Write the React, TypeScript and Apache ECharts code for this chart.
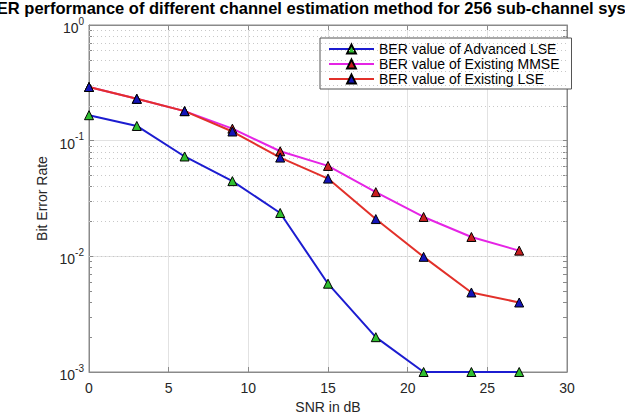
import React, { useEffect, useRef } from "react";
import * as echarts from "echarts";

const SNR = [0, 3, 6, 9, 12, 15, 18, 21, 24, 27];
const ADVANCED_LSE = [0.166, 0.134, 0.073, 0.0447, 0.0237, 0.0058, 0.002, 0.001, 0.001, 0.001];
const EXISTING_MMSE = [0.291, 0.23, 0.18, 0.127, 0.081, 0.0605, 0.0359, 0.0219, 0.0147, 0.0112];
const EXISTING_LSE = [0.291, 0.23, 0.18, 0.12, 0.0714, 0.047, 0.021, 0.0099, 0.00487, 0.00399];
const SERIES_NAMES = [
  "BER value of Advanced LSE",
  "BER value of Existing MMSE",
  "BER value of Existing LSE",
];
const TITLE = "BER performance of different channel estimation method for 256 sub-channel system";
const Y_MAJOR = [0.001, 0.01, 0.1, 1];
const MINOR_MULT = [2, 3, 4, 5, 6, 7, 8, 9];

const FONT = "'Liberation Sans', Arial, Helvetica, sans-serif";
const AXIS_COLOR = "#8a8a8a";
const TEXT_COLOR = "#262626";

export default function App() {
  const ref = useRef<HTMLDivElement>(null);
  useEffect(() => {
    document.body.style.margin = "0";
    if (!ref.current) return;
    const chart = echarts.init(ref.current, null, { renderer: "svg" });
    const minorVals: number[] = [];
    Y_MAJOR.slice(0, 3).forEach((d) => MINOR_MULT.forEach((m) => minorVals.push(+(d * m).toPrecision(3))));
    const pairs = (ys: number[]) => SNR.map((x, i) => [x, ys[i]]);
    const mk = (name: string, ys: number[], line: string, fill: string) => ({
      name,
      type: "line",
      data: pairs(ys),
      symbol: "triangle",
      symbolSize: 9,
      lineStyle: { color: line, width: 2 },
      itemStyle: { color: fill, borderColor: "#000", borderWidth: 1 },
      clip: false,
      z: 5,
    });
    const option: any = {
      animation: false,
      textStyle: { fontFamily: FONT },
      grid: {
        left: 89,
        right: 58,
        top: 25,
        bottom: 45,
        show: true,
        borderColor: AXIS_COLOR,
        borderWidth: 1,
        backgroundColor: "#fff",
      },
      graphic: [
        {
          type: "text",
          x: 320,
          y: 8,
          style: {
            text: TITLE,
            font: `bold 16.5px ${FONT}`,
            fill: "#000",
            textAlign: "center",
            textVerticalAlign: "middle",
          },
          z: 10,
        },
      ],
      legend: {
        data: SERIES_NAMES,
        orient: "vertical",
        left: 320,
        top: 38,
        padding: [4, 12, 3, 8],
        itemGap: 1,
        itemWidth: 45,
        itemHeight: 11,
        backgroundColor: "#fff",
        borderColor: "#555",
        borderWidth: 1,
        textStyle: { fontSize: 14, color: "#000", fontFamily: FONT },
      },
      xAxis: [
        {
          type: "value",
          min: 0,
          max: 30,
          interval: 5,
          name: "SNR in dB",
          nameLocation: "middle",
          nameGap: 28,
          nameTextStyle: { fontSize: 14, color: TEXT_COLOR, fontFamily: FONT },
          axisLine: { show: true, onZero: false, lineStyle: { color: AXIS_COLOR } },
          axisTick: { show: true, inside: true, length: 5, lineStyle: { color: AXIS_COLOR } },
          axisLabel: { fontSize: 14, color: TEXT_COLOR, margin: 9, fontFamily: FONT },
          splitLine: { show: true, lineStyle: { color: "#e2e2e2", width: 1 } },
        },
        {
          type: "value",
          position: "top",
          min: 0,
          max: 30,
          interval: 5,
          axisLine: { show: true, onZero: false, lineStyle: { color: AXIS_COLOR } },
          axisTick: { show: true, inside: true, length: 5, lineStyle: { color: AXIS_COLOR } },
          axisLabel: { show: false },
          splitLine: { show: false },
        },
      ],
      yAxis: [
        {
          type: "log",
          logBase: 10,
          min: 0.001,
          max: 1,
          name: "Bit Error Rate",
          nameLocation: "middle",
          nameGap: 40,
          nameTextStyle: { fontSize: 14, color: TEXT_COLOR, fontFamily: FONT },
          axisLine: { show: true, onZero: false, lineStyle: { color: AXIS_COLOR } },
          axisTick: { show: true, inside: true, length: 5, lineStyle: { color: AXIS_COLOR } },
          axisLabel: {
            margin: 5,
            color: TEXT_COLOR,
            formatter: (v: number) => `{b|10}{s|${Math.round(Math.log10(v))}}`,
            rich: {
              b: { fontSize: 14, color: TEXT_COLOR, fontFamily: FONT, padding: [6, 0, 0, 0] },
              s: { fontSize: 10, color: TEXT_COLOR, fontFamily: FONT, padding: [0, 0, 8, 0] },
            },
          },
          splitLine: { show: true, lineStyle: { color: "#e2e2e2", width: 1 } },
        },
        {
          type: "log",
          logBase: 10,
          min: 0.001,
          max: 1,
          position: "left",
          axisLine: { show: false },
          axisTick: {
            show: true,
            inside: true,
            length: 3,
            customValues: minorVals,
            lineStyle: { color: AXIS_COLOR },
          },
          axisLabel: { show: false },
          splitLine: { show: false },
        },
        {
          type: "log",
          logBase: 10,
          min: 0.001,
          max: 1,
          position: "right",
          axisLine: { show: true, onZero: false, lineStyle: { color: AXIS_COLOR } },
          axisTick: {
            show: true,
            inside: true,
            length: 4,
            customValues: [...minorVals, ...Y_MAJOR],
            lineStyle: { color: AXIS_COLOR },
          },
          axisLabel: { show: false },
          splitLine: { show: false },
        },
      ],
      series: [
        {
          name: "minor-grid",
          type: "line",
          data: [],
          silent: true,
          z: 1,
          markLine: {
            silent: true,
            symbol: "none",
            label: { show: false },
            lineStyle: { color: "#c8c8c8", type: [1, 3], width: 1 },
            data: minorVals.map((v) => ({ yAxis: v })),
          },
        },
        mk(SERIES_NAMES[0], ADVANCED_LSE, "#1c1cd0", "#2fbf2f"),
        mk(SERIES_NAMES[1], EXISTING_MMSE, "#e524e5", "#c81e1e"),
        mk(SERIES_NAMES[2], EXISTING_LSE, "#e2302a", "#1414b8"),
      ],
    };
    chart.setOption(option);
    return () => chart.dispose();
  }, []);
  return <div ref={ref} style={{ width: 625, height: 419 }} />;
}
